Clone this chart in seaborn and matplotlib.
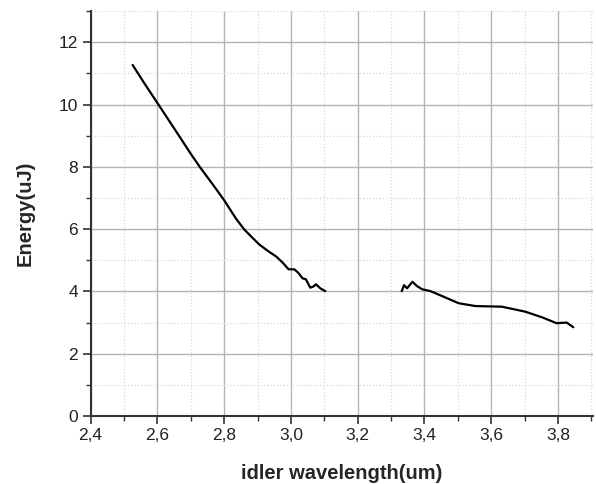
import numpy as np
import pandas as pd
import seaborn as sns
import matplotlib
matplotlib.use("Agg")
import matplotlib.pyplot as plt
from matplotlib.ticker import MultipleLocator, FuncFormatter

## Data
# short-wavelength branch
wl_a = [2.526, 2.56, 2.602, 2.65, 2.70, 2.727, 2.765, 2.80, 2.836, 2.861, 2.885,
        2.906, 2.935, 2.956, 2.975, 2.993, 3.01, 3.022, 3.035, 3.045, 3.058,
        3.068, 3.075, 3.088, 3.103]
en_a = [11.27, 10.70, 10.02, 9.24, 8.42, 8.0, 7.45, 6.93, 6.33, 5.98, 5.72,
        5.50, 5.27, 5.12, 4.93, 4.71, 4.71, 4.60, 4.42, 4.39, 4.12,
        4.16, 4.23, 4.10, 4.01]
# long-wavelength branch
wl_b = [3.332, 3.339, 3.348, 3.364, 3.378, 3.393, 3.418, 3.453, 3.503, 3.553,
        3.632, 3.702, 3.752, 3.796, 3.826, 3.846]
en_b = [4.01, 4.20, 4.10, 4.31, 4.17, 4.07, 4.01, 3.85, 3.62, 3.53,
        3.51, 3.35, 3.17, 2.98, 3.00, 2.85]

df_a = pd.DataFrame({"wl": wl_a, "energy": en_a})
df_b = pd.DataFrame({"wl": wl_b, "energy": en_b})

sns.set_style("ticks")
plt.rcParams["font.family"] = ["Liberation Sans", "DejaVu Sans"]

fig = plt.figure(figsize=(5.96, 4.84), dpi=100)
ax = fig.add_axes([0.152, 0.1405, 0.843, 0.8365])

sns.lineplot(data=df_a, x="wl", y="energy", sort=False, color="black", linewidth=1.6, ax=ax)
sns.lineplot(data=df_b, x="wl", y="energy", sort=False, color="black", linewidth=1.6, ax=ax)

ax.set_xlim(2.4, 3.905)
ax.set_ylim(0, 13)
ax.xaxis.set_major_locator(MultipleLocator(0.2))
ax.xaxis.set_minor_locator(MultipleLocator(0.1))
ax.yaxis.set_major_locator(MultipleLocator(2))
ax.yaxis.set_minor_locator(MultipleLocator(1))
ax.xaxis.set_major_formatter(FuncFormatter(lambda v, p: f"{v:.1f}".replace(".", ",")))
ax.yaxis.set_major_formatter(FuncFormatter(lambda v, p: f"{v:.0f}"))

ax.grid(which="major", color="#b4b4b4", linewidth=1.0, linestyle="-")
ax.grid(which="minor", color="#d8d8d8", linewidth=0.9, linestyle=":")
ax.set_axisbelow(True)

for s in ["top", "right"]:
    ax.spines[s].set_visible(False)
for s in ["left", "bottom"]:
    ax.spines[s].set_color("#333333")
    ax.spines[s].set_linewidth(1.5)

ax.tick_params(which="major", direction="out", length=6, width=1.2, color="#333333",
               labelsize=12.5, labelcolor="#222222", pad=3)
ax.tick_params(which="minor", direction="out", length=3.5, width=1.0, color="#333333")

ax.set_xlabel("idler wavelength(um)", fontsize=14.5, fontweight="bold", labelpad=15)
ax.set_ylabel("Energy(uJ)", fontsize=14.5, fontweight="bold", labelpad=17)

fig.savefig("out.png", dpi=100)
